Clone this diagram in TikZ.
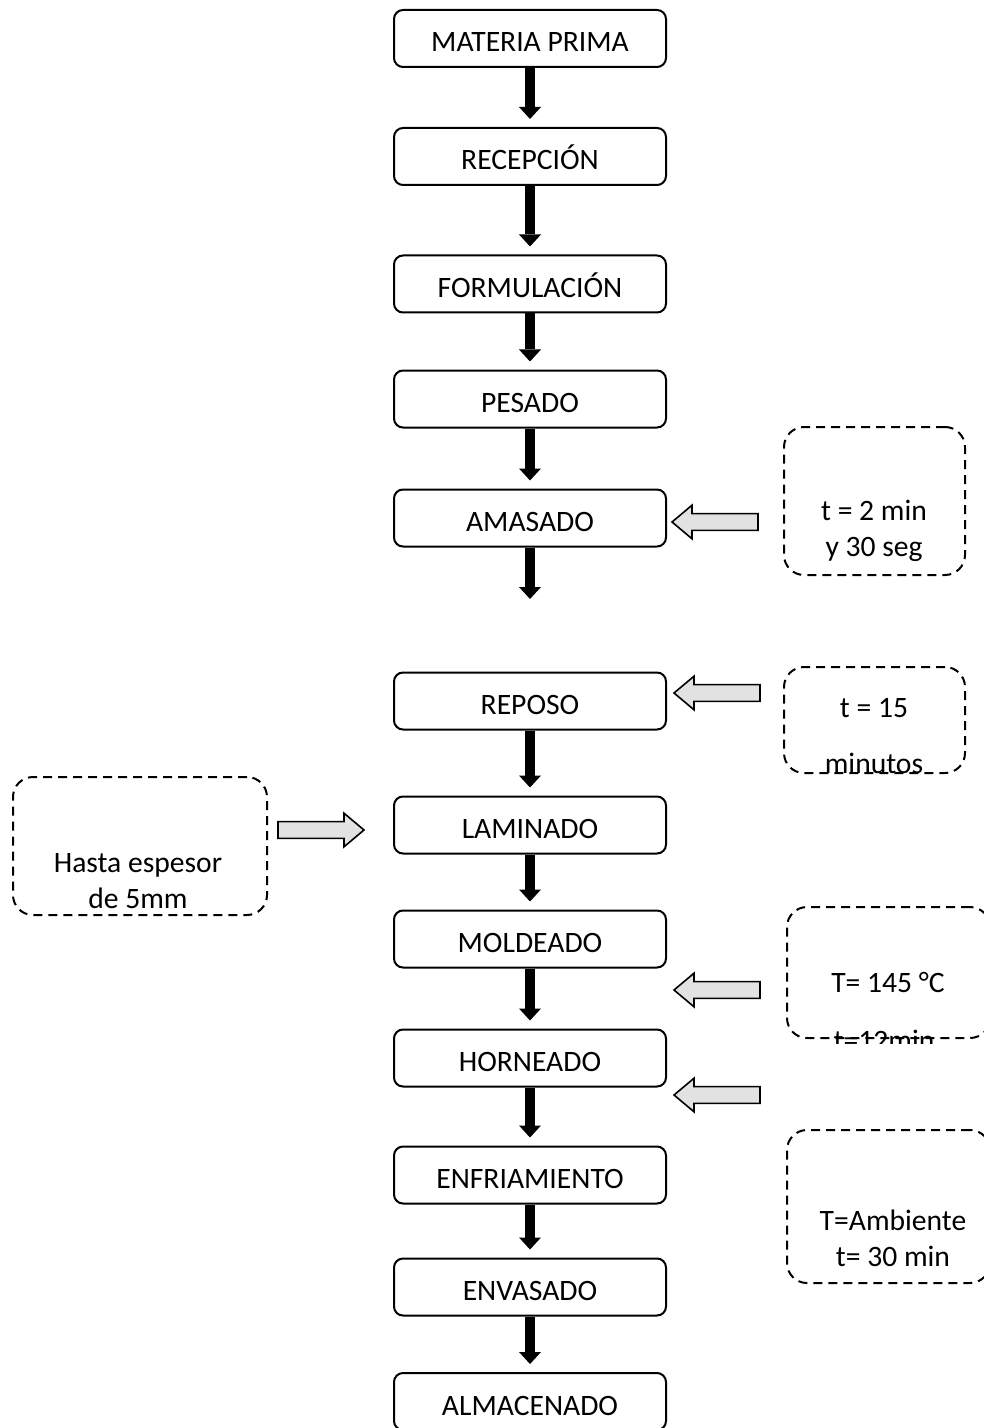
\documentclass[tikz,border=0pt]{standalone}
\usepackage{fontspec}
\setmainfont{Carlito}
\usepackage{tikz}
\usetikzlibrary{positioning,arrows.meta,shapes.arrows,calc}
\definecolor{grisclaro}{HTML}{E2E2E2}
\tikzset{
  paso/.style={draw,line width=1pt,rounded corners=4.5pt,fill=white,
               minimum width=136pt,minimum height=28.5pt,inner sep=0pt,
               text height=13.5pt,text depth=0pt,font=\fontsize{14.8}{18}\selectfont},
  nota/.style={draw,line width=1pt,dash pattern=on 4.5pt off 3pt,
               rounded corners=10pt,inner sep=0pt},
  notatxt/.style={align=center,inner sep=0pt,font=\fontsize{14.8}{18}\selectfont},
  flecha/.style={line width=5pt,-{Triangle[width=11pt,length=6pt,line width=0pt]},
                 shorten >=4pt},
  entrada/.style={single arrow,draw,line width=0.8pt,fill=grisclaro,
                  minimum height=43pt,minimum width=16pt,inner sep=3.8pt,
                  single arrow head extend=4.2pt,single arrow tip angle=80}
}

\begin{document}
\begin{tikzpicture}[x=0.5pt,y=-0.5pt]
  \useasboundingbox (0,0) rectangle (984,1428);

  % proceso principal
  \node[paso] (mprima) at (530,38.5) {MATERIA PRIMA};
  \node[paso] (recepcion) at (530,156.5) {RECEPCIÓN};
  \node[paso] (formulacion) at (530,284) {FORMULACIÓN};
  \node[paso] (pesado) at (530,399) {PESADO};
  \node[paso] (amasado) at (530,518) {AMASADO};
  \coordinate (pausa) at (530,599);
  \node[paso] (reposo) at (530,701) {REPOSO};
  \node[paso] (laminado) at (530,825) {LAMINADO};
  \node[paso] (moldeado) at (530,939) {MOLDEADO};
  \node[paso] (horneado) at (530,1058) {HORNEADO};
  \node[paso] (enfriamiento) at (530,1175) {ENFRIAMIENTO};
  \node[paso] (envasado) at (530,1287) {ENVASADO};
  \node[paso] (almacenado) at (530,1401.5) {ALMACENADO};

  \draw[flecha] (mprima) -- (recepcion);
  \draw[flecha] (recepcion) -- (formulacion);
  \draw[flecha] (formulacion) -- (pesado);
  \draw[flecha] (pesado) -- (amasado);
  \draw[flecha,shorten >=0pt] (amasado) -- (pausa);
  \draw[flecha] (reposo) -- (laminado);
  \draw[flecha] (laminado) -- (moldeado);
  \draw[flecha] (moldeado) -- (horneado);
  \draw[flecha] (horneado) -- (enfriamiento);
  \draw[flecha] (enfriamiento) -- (envasado);
  \draw[flecha] (envasado) -- (almacenado);

  % condiciones
  \node[nota,minimum width=90.5pt,minimum height=74pt] (nAmasado) at (874.5,501) {};
  \node[notatxt] (tAmasado) at (874,531) {t = 2 min\\y 30 seg};
  \node[nota,minimum width=90.5pt,minimum height=53pt] (nReposo) at (874.5,720) {};
  \node[notatxt] (tReposo) at (874,736) {t = 15\\[10pt]minutos};
  \node[nota,minimum width=127pt,minimum height=69pt] (nLaminado) at (140,846) {};
  \node[notatxt] (tLaminado) at (138,881) {Hasta espesor\\de 5mm};
  \node[nota,minimum width=101.5pt,minimum height=65.5pt] (nMoldeado) at (888.5,972.5) {};
  \node[notatxt] (tMoldeado) at (888,982) {T= 145 °C};
  \begin{scope}
    \clip (nMoldeado.north west) rectangle ([yshift=-2pt]nMoldeado.south east);
    \node[notatxt] (tHorneado) at (884,1040) {t=12min};
  \end{scope}
  \node[nota,minimum width=101.5pt,minimum height=76.5pt] (nEnfriamiento) at (888.5,1206.5) {};
  \node[notatxt] (tEnfriamiento) at (893,1238) {T=Ambiente\\t= 30 min};

  % entradas
  \node[entrada,shape border rotate=180] (eAmasado) at (720,522) {};
  \node[entrada,shape border rotate=180] (eReposo) at (722,693) {};
  \node[entrada] (eLaminado) at (316,830) {};
  \node[entrada,shape border rotate=180] (eMoldeado) at (722,990) {};
  \node[entrada,shape border rotate=180] (eHorneado) at (722,1095) {};
\end{tikzpicture}
\end{document}
